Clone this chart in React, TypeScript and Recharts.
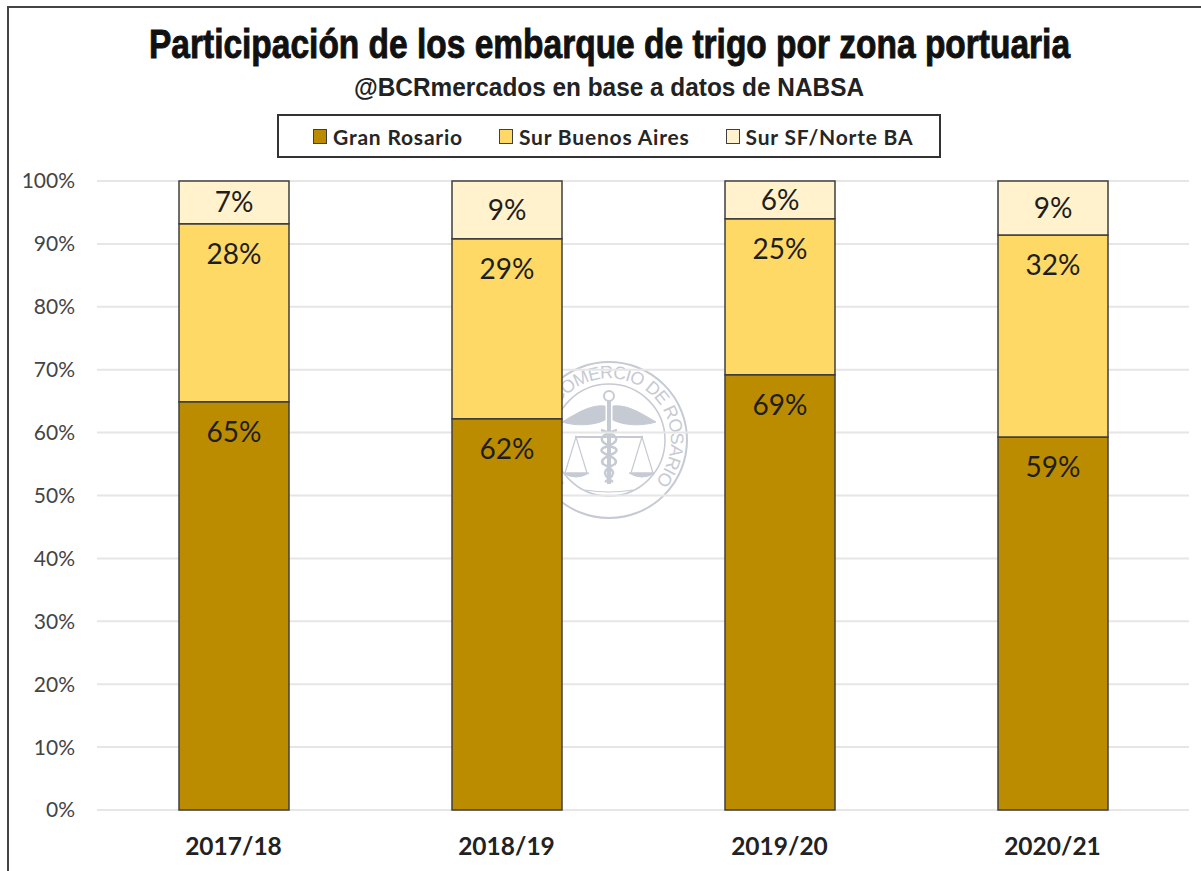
import {
  BarChart,
  Bar,
  XAxis,
  YAxis,
  CartesianGrid,
  Legend,
  LabelList,
} from "recharts";

const campaigns = ["2017/18", "2018/19", "2019/20", "2020/21"];
const granRosario = [64.9, 62.2, 69.2, 59.3];
const surBuenosAires = [28.3, 28.6, 24.8, 32.1];
const surSfNorteBa = [6.8, 9.2, 6.0, 8.6];
const yTicks = [0, 10, 20, 30, 40, 50, 60, 70, 80, 90, 100];

const data = campaigns.map((campaign, i) => ({
  campaign,
  granRosario: granRosario[i],
  surBuenosAires: surBuenosAires[i],
  surSfNorteBa: surSfNorteBa[i],
}));

const BORDER = "#3F3F3F";
const SEAL = "#C6CAD3";
const labelStyle = { fill: "#1E1E1E", fontSize: 28, fontFamily: "Lato" };
const pct = (v: number) => `${Math.round(v)}%`;

function LegendBox({ payload }: any) {
  return (
    <div
      style={{
        boxSizing: "border-box",
        width: 664,
        height: 44,
        border: "2px solid #333",
        background: "#fff",
        display: "flex",
        alignItems: "center",
        paddingLeft: 34,
        fontFamily: "Lato",
        fontWeight: 700,
        fontSize: 21,
        letterSpacing: 0.8,
        color: "#262626",
        whiteSpace: "nowrap",
      }}
    >
      {(payload ?? []).map((item: any) => (
        <span
          key={item.value}
          style={{ display: "flex", alignItems: "center", flexShrink: 0, marginRight: 36 }}
        >
          <span
            style={{
              display: "inline-block",
              boxSizing: "border-box",
              width: 14,
              height: 15,
              marginRight: 6,
              background: item.color,
              border: `1px solid ${BORDER}`,
            }}
          />
          {item.value}
        </span>
      ))}
    </div>
  );
}

// sello de fondo, queda detras de las barras
function Seal() {
  return (
    <svg width={1201} height={871} style={{ position: "absolute", left: 0, top: 0 }}>
      <g transform="translate(609 440)" fill="none" stroke={SEAL}>
        <circle r={78} strokeWidth={2} />
        <circle r={56} strokeWidth={1.5} />
        <path id="sealText" d="M -44 44 A 62 62 0 1 1 44 44" stroke="none" />
        <text fill={SEAL} stroke="none" fontSize={18} fontFamily="Liberation Sans">
          <textPath href="#sealText" textLength={288} lengthAdjust="spacing">
            BOLSA DE COMERCIO DE ROSARIO
          </textPath>
        </text>
        <path d="M 0 -40 L 0 44" strokeWidth={4} />
        <circle cy={-44} r={5} strokeWidth={2} />
        <path d="M -4 -34 C -20 -36 -36 -24 -47 -18 C -34 -14 -16 -14 -4 -20 Z" fill={SEAL} strokeWidth={1} />
        <path d="M 4 -34 C 20 -36 36 -24 47 -18 C 34 -14 16 -14 4 -20 Z" fill={SEAL} strokeWidth={1} />
        <path d="M -34 -3 L 34 -3" strokeWidth={2} />
        <path d="M -8 -10 C 12 -4 12 2 -6 8 C -14 14 12 16 6 24 C -6 30 -8 34 4 42" strokeWidth={2.5} />
        <path d="M 8 -10 C -12 -4 -12 2 6 8 C 14 14 -12 16 -6 24 C 6 30 8 34 -4 42" strokeWidth={2.5} />
        <path d="M -33 -3 L -44 33 L -22 33 Z M 33 -3 L 22 33 L 44 33 Z" strokeWidth={1.2} />
        <path d="M -46 33 Q -33 41 -20 33 Z M 20 33 Q 33 41 46 33 Z" fill={SEAL} strokeWidth={1} />
        <path d="M -24 50 Q 0 54 24 50" strokeWidth={1.2} />
      </g>
    </svg>
  );
}

export default function App() {
  return (
    <div
      style={{
        position: "absolute",
        left: 0,
        top: 0,
        width: 1201,
        height: 871,
        overflow: "hidden",
        background: "#fff",
      }}
    >
      <div
        style={{
          position: "absolute",
          left: 7,
          top: 6,
          width: 1300,
          height: 900,
          border: "2px solid #444",
        }}
      />
      <Seal />
      <svg width={1201} height={110} style={{ position: "absolute", left: 0, top: 0 }}>
        <g transform="translate(149 58) scale(0.86 1)">
          <text
            textLength={1071}
            lengthAdjust="spacingAndGlyphs"
            fontFamily="Liberation Sans"
            fontWeight={700}
            fontSize={40}
            fill="#111"
            stroke="#111"
            strokeWidth={0.9}
          >
            Participación de los embarque de trigo por zona portuaria
          </text>
        </g>
        <text
          x={354}
          y={96}
          textLength={510}
          lengthAdjust="spacingAndGlyphs"
          fontFamily="Liberation Sans"
          fontWeight={700}
          fontSize={25}
          fill="#222"
        >
          @BCRmercados en base a datos de NABSA
        </text>
      </svg>
      <BarChart
        width={1201}
        height={871}
        data={data}
        barSize={110}
        margin={{ top: 137, right: 12, left: 0, bottom: 0 }}
        style={{ position: "absolute", left: 0, top: 0 }}
      >
        <CartesianGrid vertical={false} stroke="#E6E6E6" strokeWidth={2} />
        <XAxis
          dataKey="campaign"
          height={61}
          axisLine={false}
          tickLine={false}
          tickSize={0}
          tickMargin={28}
          tick={{ fill: "#222", fontSize: 24.5, fontWeight: 700, fontFamily: "Lato" }}
        />
        <YAxis
          width={97}
          domain={[0, 100]}
          ticks={yTicks}
          tickFormatter={(v: number) => `${v}%`}
          axisLine={false}
          tickLine={false}
          tickSize={0}
          tickMargin={22}
          tick={{ fill: "#444", fontSize: 21, fontFamily: "Lato" }}
        />
        <Legend
          verticalAlign="top"
          align="left"
          wrapperStyle={{ left: 277, top: 114, width: 664 }}
          content={<LegendBox />}
        />
        <Bar
          dataKey="granRosario"
          name="Gran Rosario"
          stackId="a"
          fill="#BC8C00"
          stroke={BORDER}
          strokeWidth={1.5}
          isAnimationActive={false}
        >
          <LabelList dataKey="granRosario" position="insideTop" offset={20} formatter={pct} style={labelStyle} />
        </Bar>
        <Bar
          dataKey="surBuenosAires"
          name="Sur Buenos Aires"
          stackId="a"
          fill="#FFD966"
          stroke={BORDER}
          strokeWidth={1.5}
          isAnimationActive={false}
        >
          <LabelList dataKey="surBuenosAires" position="insideTop" offset={20} formatter={pct} style={labelStyle} />
        </Bar>
        <Bar
          dataKey="surSfNorteBa"
          name="Sur SF/Norte BA"
          stackId="a"
          fill="#FFF2CC"
          stroke={BORDER}
          strokeWidth={1.5}
          isAnimationActive={false}
        >
          <LabelList dataKey="surSfNorteBa" position="center" formatter={pct} style={labelStyle} />
        </Bar>
      </BarChart>
    </div>
  );
}
